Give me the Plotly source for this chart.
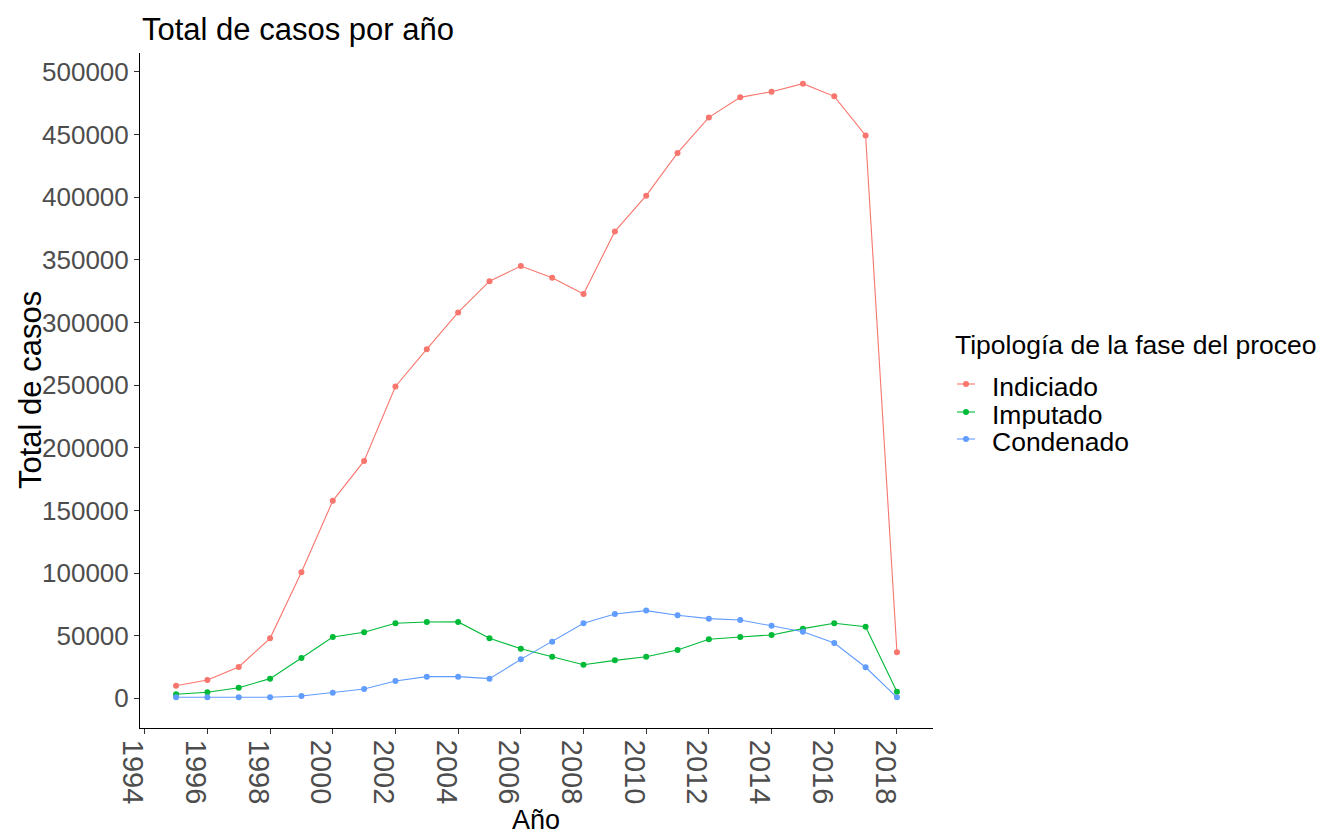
import plotly.graph_objects as go

years = list(range(1995, 2019))
indiciado = [10000, 14600, 25000, 47900, 100600, 157600, 189500, 248900, 278700, 308000,
             333000, 345000, 335700, 322700, 372700, 401200, 435300, 463700, 479700, 484200,
             490600, 480500, 449300, 36700]
imputado = [3200, 4800, 8500, 15700, 32200, 49000, 52700, 59900, 60900, 61000,
            47900, 39600, 33200, 26800, 30300, 33200, 38600, 47100, 49000, 50600,
            55600, 59900, 57200, 5300]
condenado = [800, 800, 800, 800, 1800, 4500, 7400, 13800, 17300, 17300,
             15700, 31100, 45200, 59900, 67300, 70000, 66300, 63600, 62500, 58000,
             53200, 44200, 24800, 800]

series_names = ["Indiciado", "Imputado", "Condenado"]
series_values = [indiciado, imputado, condenado]
colors = ["#F8766D", "#00BA38", "#619CFF"]
x_ticks = list(range(1994, 2019, 2))
y_ticks = list(range(0, 500001, 50000))

FONT = "Liberation Sans, Arial, sans-serif"

# page has an 8px body margin: work in reference pixels, shift by OFF
OFF = 8
W, H = 1325 - OFF, 837 - OFF
L, R, T, B = 140 - OFF, 933 - OFF, 53 - OFF, 728 - OFF

fig = go.Figure()
for name, vals, col in zip(series_names, series_values, colors):
    fig.add_trace(go.Scatter(
        x=years, y=vals, name=name, mode="lines+markers",
        line=dict(color=col, width=1.1),
        marker=dict(color=col, size=6),
        showlegend=False,
    ))

fig.update_layout(
    width=W, height=H,
    margin=dict(l=L, r=W - R, t=T, b=H - B, autoexpand=False),
    paper_bgcolor="white", plot_bgcolor="white",
    showlegend=False,
)

fig.update_xaxes(
    range=[1993.85, 2019.15], tickvals=x_ticks, ticktext=[str(v) for v in x_ticks],
    tickangle=90, ticks="outside", ticklen=5, tickcolor="#333333", tickwidth=1,
    showline=True, linecolor="black", linewidth=1, showgrid=False, zeroline=False,
    tickfont=dict(family=FONT, size=29, color="#4D4D4D"), ticklabelshift=-12,
)
fig.update_yaxes(
    range=[-23690, 515090], tickvals=y_ticks, ticktext=[str(v) for v in y_ticks],
    ticks="outside", ticklen=5, tickcolor="#333333", tickwidth=1,
    showline=True, linecolor="black", linewidth=1, showgrid=False, zeroline=False,
    tickfont=dict(family=FONT, size=26, color="#4D4D4D"),
)

# positions below are reference-picture pixels
annotations = [
    dict(text="Total de casos por año", x=140, y=30, xanchor="left",
         font=dict(family=FONT, size=31, color="black")),
    dict(text="Total de casos", x=30, y=390, textangle=-90,
         font=dict(family=FONT, size=31, color="black")),
    dict(text="Año", x=536, y=820, font=dict(family=FONT, size=27, color="black")),
    dict(text="Tipología de la fase del proceo", x=953, y=345, xanchor="left",
         font=dict(family=FONT, size=26.5, color="black")),
]
label_y = [387, 415, 442]
shapes = []
for name, col, yy in zip(series_names, colors, label_y):
    annotations.append(dict(text=name, x=990, y=yy, xanchor="left",
                            font=dict(family=FONT, size=26.5, color="black")))
    gy = yy - 3
    shapes.append(dict(type="line", x0=957, x1=975, y0=gy, y1=gy,
                       line=dict(color=col, width=1.1)))
    shapes.append(dict(type="circle", x0=963, x1=969, y0=gy - 3, y1=gy + 3,
                       fillcolor=col, line=dict(color=col, width=0)))

def px_x(x):
    return (x - OFF - L) / (R - L)

def px_y(y):
    return (B - (y - OFF)) / (B - T)

anns = []
for a in annotations:
    d = dict(xref="paper", yref="paper", showarrow=False, yanchor="middle", xanchor="center")
    d.update(a)
    d["x"] = px_x(a["x"])
    d["y"] = px_y(a["y"])
    anns.append(d)
shp = []
for s in shapes:
    d = dict(xref="paper", yref="paper")
    d.update(s)
    d["x0"], d["x1"] = px_x(s["x0"]), px_x(s["x1"])
    d["y0"], d["y1"] = px_y(s["y0"]), px_y(s["y1"])
    shp.append(d)
fig.update_layout(annotations=anns, shapes=shp)

fig.write_html("out.html")
